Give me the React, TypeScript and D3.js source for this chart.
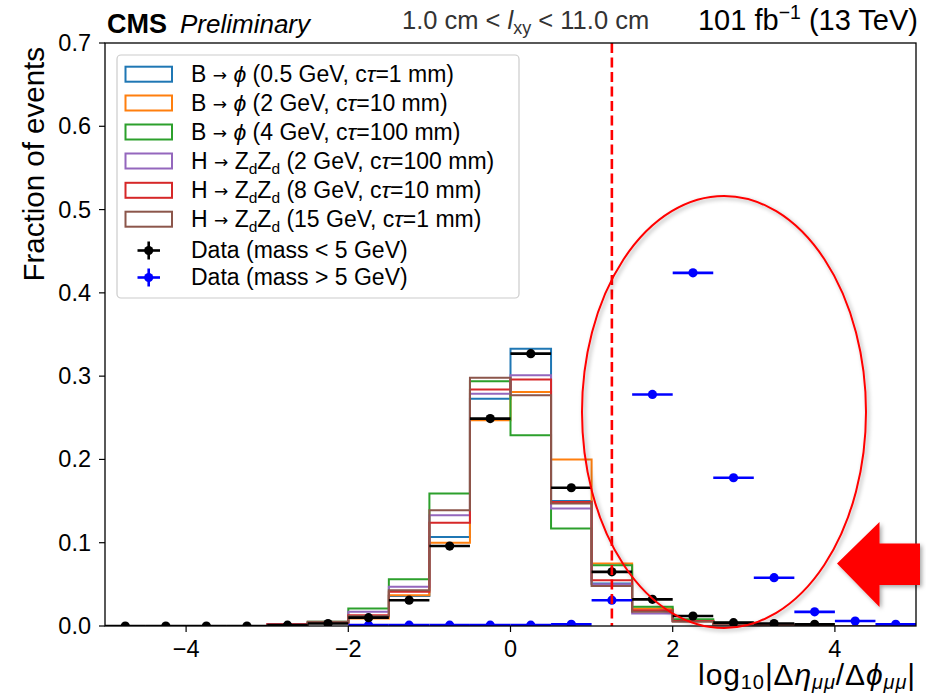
import React from 'react';
import * as d3 from 'd3';

// ---------- data ----------
const binEdges = [-5, -4.5, -4, -3.5, -3, -2.5, -2, -1.5, -1, -0.5, 0, 0.5, 1, 1.5, 2, 2.5, 3, 3.5, 4, 4.5, 5];
const binCenters = [-4.75, -4.25, -3.75, -3.25, -2.75, -2.25, -1.75, -1.25, -0.75, -0.25, 0.25, 0.75, 1.25, 1.75, 2.25, 2.75, 3.25, 3.75, 4.25, 4.75];

const seriesNames = ['B05', 'B2', 'B4', 'H2', 'H8', 'H15'];
const seriesColors = ['#1f77b4', '#ff7f0e', '#2ca02c', '#9467bd', '#d62728', '#8c564b'];

const histB05 = [0, 0, 0, 0, 0.001, 0.004, 0.011, 0.036, 0.107, 0.273, 0.333, 0.150, 0.051, 0.018, 0.006, 0.002, 0.001, 0, 0, 0];
const histB2 = [0, 0, 0, 0, 0.001, 0.004, 0.009, 0.037, 0.100, 0.247, 0.281, 0.200, 0.075, 0.021, 0.007, 0.003, 0.001, 0, 0, 0];
const histB4 = [0, 0, 0, 0, 0.001, 0.005, 0.021, 0.056, 0.159, 0.294, 0.229, 0.117, 0.073, 0.023, 0.008, 0.004, 0.001, 0, 0, 0];
const histH2 = [0, 0, 0, 0, 0.002, 0.004, 0.017, 0.047, 0.133, 0.279, 0.301, 0.141, 0.050, 0.015, 0.006, 0.002, 0.001, 0, 0, 0];
const histH8 = [0, 0, 0, 0, 0.002, 0.004, 0.013, 0.041, 0.124, 0.284, 0.296, 0.149, 0.055, 0.019, 0.006, 0.002, 0.001, 0, 0, 0];
const histH15 = [0, 0, 0, 0, 0.001, 0.005, 0.012, 0.043, 0.139, 0.298, 0.277, 0.147, 0.048, 0.017, 0.005, 0.002, 0.001, 0, 0, 0];
const histograms = [histB05, histB2, histB4, histH2, histH8, histH15];

const dataLow: (number | null)[] = [0, 0, 0, 0, 0.001, 0.003, 0.010, 0.031, 0.096, 0.249, 0.327, 0.166, 0.065, 0.032, 0.012, 0.004, 0.003, 0.002, null, null];
const dataHigh: (number | null)[] = [null, null, null, null, null, null, 0.001, 0.001, 0.001, 0.001, 0.001, 0.002, 0.031, 0.278, 0.424, 0.178, 0.058, 0.017, 0.006, 0.002];

const xTicks = [-4, -2, 0, 2, 4];
const yTicks = [0, 0.1, 0.2, 0.3, 0.4, 0.5, 0.6, 0.7];
const cutValue = 1.25;

// ---------- layout ----------
const W = 926, H = 695;
const L = 105, R = 916, T = 43, B = 626;
const FONT = "'Liberation Sans', Arial, Helvetica, sans-serif";
const ARROWFONT = "'DejaVu Sans', sans-serif";

const x = d3.scaleLinear().domain([-5, 5]).range([L, R]);
const y = d3.scaleLinear().domain([0, 0.7]).range([B, T]);

function stepPath(vals: number[]) {
  const pts: [number, number][] = [[binEdges[0], 0]];
  vals.forEach((v, i) => {
    pts.push([binEdges[i], v]);
    pts.push([binEdges[i + 1], v]);
  });
  pts.push([binEdges[binEdges.length - 1], 0]);
  return d3.line<[number, number]>().x(d => x(d[0])).y(d => y(d[1]))(pts) || '';
}

const legendRows = [
  { kind: 'B', mass: '0.5', ct: '1' },
  { kind: 'B', mass: '2', ct: '10' },
  { kind: 'B', mass: '4', ct: '100' },
  { kind: 'H', mass: '2', ct: '100' },
  { kind: 'H', mass: '8', ct: '10' },
  { kind: 'H', mass: '15', ct: '1' },
];

const LFS = 23;

function LegendLabel({ row, xx, yy }: { row: any; xx: number; yy: number }) {
  if (row.kind === 'B') {
    return (
      <text x={xx} y={yy} fontSize={LFS} fontFamily={FONT}>
        <tspan>B </tspan>
        <tspan fontFamily={ARROWFONT} fontSize={17} dy={-1}>→</tspan>
        <tspan dy={1}> </tspan>
        <tspan fontStyle="italic">ϕ</tspan>
        <tspan>{` (${row.mass} GeV, c`}</tspan>
        <tspan fontStyle="italic">τ</tspan>
        <tspan>{`=${row.ct} mm)`}</tspan>
      </text>
    );
  }
  return (
    <text x={xx} y={yy} fontSize={LFS} fontFamily={FONT}>
      <tspan>H </tspan>
      <tspan fontFamily={ARROWFONT} fontSize={17} dy={-1}>→</tspan>
      <tspan dy={1}> Z</tspan>
      <tspan fontSize={15.5} dy={5}>d</tspan>
      <tspan dy={-5}>Z</tspan>
      <tspan fontSize={15.5} dy={5}>d</tspan>
      <tspan dy={-5}>{` (${row.mass} GeV, c`}</tspan>
      <tspan fontStyle="italic">τ</tspan>
      <tspan>{`=${row.ct} mm)`}</tspan>
    </text>
  );
}

function DataPoints({ vals, color }: { vals: (number | null)[]; color: string }) {
  return (
    <g>
      {vals.map((v, i) =>
        v === null ? null : (
          <g key={i}>
            <line x1={x(binEdges[i])} x2={x(binEdges[i + 1])} y1={y(v)} y2={y(v)} stroke={color} strokeWidth={2.6} />
            <circle cx={x(binCenters[i])} cy={y(v)} r={4.6} fill={color} />
          </g>
        )
      )}
    </g>
  );
}

export default function App() {
  const legX = 117, legY = 55, legW = 402, legH = 243;
  const rowBases = [81.7, 110.5, 139.5, 168.5, 197.8, 226.7, 258, 285];
  return (
    <svg width={W} height={H} style={{ position: 'absolute', left: 0, top: 0, background: '#fff' }} fontFamily={FONT}>
      <defs>
        <filter id="shadow" x="-20%" y="-20%" width="140%" height="140%">
          <feDropShadow dx="2" dy="2" stdDeviation="2" floodColor="#000" floodOpacity="0.35" />
        </filter>
        <clipPath id="plotclip">
          <rect x={L} y={T} width={R - L} height={B - T} />
        </clipPath>
      </defs>
      <rect x={0} y={0} width={W} height={H} fill="#fff" />

      {/* histograms */}
      <g clipPath="url(#plotclip)">
        {histograms.map((h, k) => (
          <path key={seriesNames[k]} d={stepPath(h)} fill="none" stroke={seriesColors[k]} strokeWidth={2} />
        ))}
        <DataPoints vals={dataHigh} color="#0000ff" />
        <DataPoints vals={dataLow} color="#000000" />
        <line x1={x(cutValue)} x2={x(cutValue)} y1={T} y2={B} stroke="#ff0000" strokeWidth={2.6} strokeDasharray="10,4.5" />
      </g>

      {/* frame */}
      <rect x={L} y={T} width={R - L} height={B - T} fill="none" stroke="#000" strokeWidth={1.3} />

      {/* y ticks */}
      {yTicks.map(t => (
        <g key={t}>
          <line x1={L - 6} x2={L} y1={y(t)} y2={y(t)} stroke="#000" strokeWidth={1.2} />
          <text x={L - 14} y={y(t) + 8} textAnchor="end" fontSize={23.5}>{t.toFixed(1)}</text>
        </g>
      ))}
      {/* x ticks */}
      {xTicks.map(t => (
        <g key={t}>
          <line x1={x(t)} x2={x(t)} y1={B} y2={B + 6} stroke="#000" strokeWidth={1.2} />
          <text x={x(t)} y={657} textAnchor="middle" fontSize={23.5}>{t < 0 ? `−${Math.abs(t)}` : `${t}`}</text>
        </g>
      ))}

      {/* axis labels */}
      <text transform={`translate(44, ${T + 4}) rotate(-90)`} textAnchor="end" fontSize={29.5}>Fraction of events</text>
      <text x={R} y={685} textAnchor="end" fontSize={30} letterSpacing={0.9}>
        <tspan>log</tspan>
        <tspan fontSize={20} dy={4}>10</tspan>
        <tspan dy={-4}>|Δ</tspan>
        <tspan fontStyle="italic">η</tspan>
        <tspan fontSize={20} fontStyle="italic" dy={4}>μμ</tspan>
        <tspan dy={-4}>/Δ</tspan>
        <tspan fontStyle="italic">ϕ</tspan>
        <tspan fontSize={20} fontStyle="italic" dy={4}>μμ</tspan>
        <tspan dy={-4}>|</tspan>
      </text>

      {/* header */}
      <text x={107} y={33} fontSize={27} fontWeight="bold">CMS</text>
      <text x={180} y={33} fontSize={26} fontStyle="italic">Preliminary</text>
      <text x={402} y={29} fontSize={25.5} fill="#333">
        <tspan>1.0 cm &lt; </tspan>
        <tspan fontStyle="italic">l</tspan>
        <tspan fontSize={18} dy={5}>xy</tspan>
        <tspan dy={-5}> &lt; 11.0 cm</tspan>
      </text>
      <text x={918} y={30} textAnchor="end" fontSize={29}>
        <tspan>101 fb</tspan>
        <tspan fontSize={19.5} dy={-11}>−1</tspan>
        <tspan dy={11}> (13 TeV)</tspan>
      </text>

      {/* legend */}
      <rect x={legX} y={legY} width={legW} height={legH} rx={4} fill="#fff" fillOpacity={0.85} stroke="#cccccc" strokeWidth={1.2} />
      {legendRows.map((row, i) => {
        const by = rowBases[i];
        return (
          <g key={i}>
            <rect x={125.5} y={by - 15} width={46.5} height={15} fill="none" stroke={seriesColors[i]} strokeWidth={2} />
            <LegendLabel row={row} xx={191} yy={by} />
          </g>
        );
      })}
      {[{ c: '#000000', t: 'Data (mass < 5 GeV)' }, { c: '#0000ff', t: 'Data (mass > 5 GeV)' }].map((d, j) => {
        const by = rowBases[6 + j];
        const cy = by - 7.5;
        return (
          <g key={d.t}>
            <line x1={137.5} x2={160} y1={cy} y2={cy} stroke={d.c} strokeWidth={2.6} />
            <line x1={148.7} x2={148.7} y1={cy - 9} y2={cy + 9} stroke={d.c} strokeWidth={2.6} />
            <circle cx={148.7} cy={cy} r={4.6} fill={d.c} />
            <text x={191} y={by} fontSize={LFS}>{d.t}</text>
          </g>
        );
      })}

      {/* annotation ellipse and arrow */}
      <ellipse cx={724} cy={412} rx={142} ry={216} fill="none" stroke="#ff0000" strokeWidth={2} filter="url(#shadow)" />
      <polygon points="837,563.5 879.5,522 879.5,543.5 920,543.5 920,585 879.5,585 879.5,607" fill="#ff0000" filter="url(#shadow)" />
    </svg>
  );
}
